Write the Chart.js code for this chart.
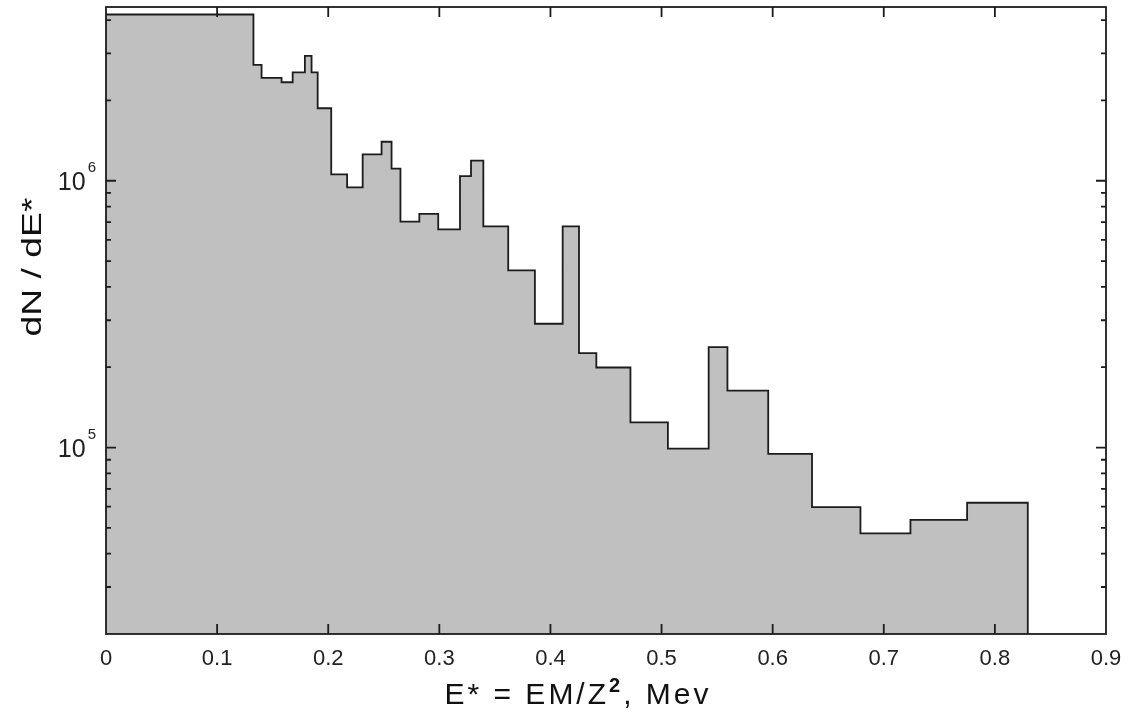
<!DOCTYPE html>
<html>
<head>
<meta charset="utf-8">
<script src="https://cdn.jsdelivr.net/npm/chart.js@4.4.1/dist/chart.umd.min.js"></script>
<style>
    html, body { margin: 0; padding: 0; background: #fff; }
    #wrap { width: 1128px; height: 718px; position: relative; }
</style>
</head>
<body>
<div id="wrap"><canvas id="chart"></canvas></div>
<script>
// histogram bins: left edges + final right edge (E*, MeV)
const binEdges = [0, 0.1327, 0.140, 0.158, 0.168, 0.179, 0.185, 0.1905, 0.2027, 0.217, 0.231,
    0.248, 0.257, 0.265, 0.282, 0.299, 0.3186, 0.3285, 0.3396, 0.362, 0.386, 0.411,
    0.4257, 0.4413, 0.472, 0.5057, 0.5424, 0.5593, 0.596, 0.6354, 0.679, 0.724, 0.775, 0.8296];

// dN/dE* per bin
const binCounts = [4.2e6, 2.72e6, 2.43e6, 2.34e6, 2.55e6, 2.94e6, 2.55e6, 1.87e6, 1.057e6, 9.44e5,
    1.256e6, 1.40e6, 1.11e6, 7.03e5, 7.51e5, 6.57e5, 1.04e6, 1.19e6, 6.74e5, 4.61e5, 2.91e5,
    6.74e5, 2.26e5, 1.995e5, 1.242e5, 9.91e4, 2.38e5, 1.634e5, 9.46e4, 5.98e4, 4.77e4, 5.36e4, 6.21e4];

const xTickLabels = ['0', '0.1', '0.2', '0.3', '0.4', '0.5', '0.6', '0.7', '0.8', '0.9'];
const yDecades = [5, 6];
const yMin = 2e4;
const yMax = 4.48e6;

const INK = '#1c1c1c';

class SpectrumChart
{
    constructor(canvas) {
        this.canvas = canvas;
        this.mount(this.buildPoints());
    }

    buildPoints() {
        let points = binCounts.map((v, i) => ({x: binEdges[i], y: v}));
        // close the last bin down to the axis floor
        points.push({x: binEdges[binEdges.length - 1], y: yMin});
        return points;
    }

    mount(points) {
        this.chart = new Chart(this.canvas, {
            type: 'line',
            data: {
                datasets: [{
                    data: points,
                    stepped: 'before',
                    borderColor: INK,
                    borderWidth: 1.8,
                    backgroundColor: '#c0c0c0',
                    fill: 'start',
                    pointRadius: 0,
                    tension: 0
                }]
            },
            options: {
                responsive: true,
                maintainAspectRatio: false,
                animation: false,
                layout: { padding: { left: 0, right: 22, top: 7, bottom: 0 } },
                plugins: { legend: { display: false }, tooltip: { enabled: false } },
                scales: {
                    x: {
                        type: 'linear',
                        min: 0,
                        max: 0.9,
                        grid: { display: false, drawTicks: false },
                        border: { display: false },
                        afterFit: s => {
                            s.height = 84;
                            s.paddingLeft = 0;
                            s.paddingRight = 0;
                        },
                        ticks: {
                            stepSize: 0.1,
                            padding: 12,
                            maxRotation: 0,
                            autoSkip: false,
                            color: '#222',
                            font: { family: 'Liberation Sans', size: 22 },
                            callback: (v, i) => xTickLabels[i]
                        }
                    },
                    y: {
                        type: 'logarithmic',
                        min: yMin,
                        max: yMax,
                        grid: { display: false, drawTicks: false },
                        border: { display: false },
                        ticks: { display: false },
                        afterFit: s => { s.width = 106; }
                    }
                }
            },
            plugins: [this.framePlugin()]
        });
    }

    framePlugin() {
        return {
            id: 'frame',
            afterDatasetsDraw(chart) {
                const ctx = chart.ctx, a = chart.chartArea;
                const xs = chart.scales.x, ys = chart.scales.y;
                ctx.save();
                ctx.strokeStyle = INK;
                ctx.lineWidth = 1.8;
                ctx.strokeRect(a.left, a.top, a.right - a.left, a.bottom - a.top);

                ctx.beginPath();
                // x ticks, top and bottom, pointing in
                xTickLabels.forEach(t => {
                    let px = xs.getPixelForValue(parseFloat(t));
                    if (px <= a.left + 1 || px >= a.right - 1) return;
                    ctx.moveTo(px, a.bottom); ctx.lineTo(px, a.bottom - 10);
                    ctx.moveTo(px, a.top); ctx.lineTo(px, a.top + 10);
                });
                // y ticks, log major + minor, both sides
                for (let e = 4; e <= 6; e++) {
                    for (let m = 1; m <= 9; m++) {
                        let v = m * Math.pow(10, e);
                        if (v <= yMin || v >= yMax) continue;
                        let py = ys.getPixelForValue(v);
                        let len = m === 1 ? 10 : 5;
                        ctx.moveTo(a.left, py); ctx.lineTo(a.left + len, py);
                        ctx.moveTo(a.right, py); ctx.lineTo(a.right - len, py);
                    }
                }
                ctx.stroke();

                // y decade labels 10^n
                ctx.fillStyle = '#222';
                ctx.textBaseline = 'alphabetic';
                yDecades.forEach(e => {
                    let py = ys.getPixelForValue(Math.pow(10, e));
                    ctx.font = '15px "Liberation Sans"';
                    ctx.textAlign = 'right';
                    ctx.fillText(String(e), 96, py - 9);
                    let sw = ctx.measureText(String(e)).width;
                    ctx.font = '25px "Liberation Sans"';
                    ctx.fillText('10', 96 - sw - 2, py + 9);
                });

                // y title: dN / dE*
                ctx.save();
                ctx.translate(41, 267);
                ctx.rotate(-Math.PI / 2);
                ctx.scale(1.38, 1);
                ctx.font = '27px "Liberation Sans"';
                ctx.textAlign = 'center';
                ctx.fillStyle = '#111';
                ctx.fillText('dN / dE*', 0, 0);
                ctx.restore();

                // x title: E* = EM/Z^2, Mev
                const xParts = [['E* = EM/Z', '30px', 0], ['2', 'bold 20px', -12], [', Mev', '30px', 0]];
                ctx.save();
                ctx.letterSpacing = '3px';
                let w = 0;
                xParts.forEach(p => { ctx.font = p[1] + ' "Liberation Sans"'; w += ctx.measureText(p[0]).width; });
                let xx = 578 - w / 2;
                ctx.fillStyle = '#111';
                ctx.textAlign = 'left';
                xParts.forEach(p => {
                    ctx.font = p[1] + ' "Liberation Sans"';
                    ctx.fillText(p[0], xx, 704 + p[2]);
                    xx += ctx.measureText(p[0]).width;
                });
                ctx.restore();
                ctx.restore();
            }
        };
    }
}

new SpectrumChart(document.getElementById('chart'));
</script>
</body>
</html>
